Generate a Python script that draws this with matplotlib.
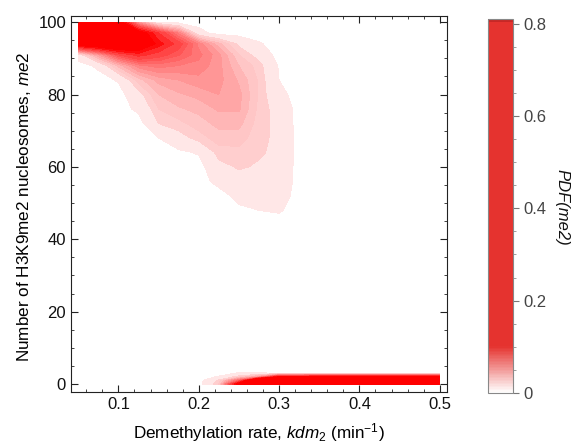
import numpy as np
import matplotlib
matplotlib.use('Agg')
import matplotlib.pyplot as plt
from matplotlib.colors import LinearSegmentedColormap, Normalize
from matplotlib.cm import ScalarMappable
from matplotlib.ticker import MultipleLocator

plt.rcParams['font.family'] = ['Liberation Sans', 'DejaVu Sans']
plt.rcParams['mathtext.fontset'] = 'custom'
plt.rcParams['mathtext.rm'] = 'Liberation Sans'
plt.rcParams['mathtext.it'] = 'Liberation Sans:italic'

# high-methylation mode (values are PDF x 1000)
kdm2_hi = [0.05, 0.075, 0.1, 0.125, 0.15, 0.175, 0.2, 0.225, 0.25, 0.275, 0.3, 0.325]
me2_hi = [44, 48, 52, 56, 60, 64, 68, 72, 76, 80, 84, 88, 91, 94, 97, 100]
pdf_hi = [
    [0, 0, 0, 0, 0, 0, 0, 0, 0, 0, 0, 0],
    [0, 0, 0, 0, 0, 0, 0, 0, 2, 4, 5, 0],
    [0, 0, 0, 0, 0, 0, 0, 0, 7, 9, 9, 0],
    [0, 0, 0, 0, 0, 0, 0, 7, 12, 13, 12, 0],
    [0, 0, 0, 0, 0, 0, 0, 13, 17, 15, 13, 0],
    [0, 0, 0, 0, 0, 2, 5, 19, 20, 17, 14, 0],
    [0, 0, 0, 0, 4, 12, 19, 25, 25, 18, 14, 0],
    [0, 0, 0, 0, 16, 20, 25, 30, 30, 19, 13, 0],
    [0, 0, 0, 6, 22, 27, 30, 35, 35, 20, 12, 0],
    [0, 0, 0, 12, 28, 33, 36, 40, 36, 21, 7, 0],
    [0, 0, 5, 25, 36, 40, 44, 42, 33, 21, 4, 0],
    [0, 6, 30, 50, 55, 52, 50, 42, 28, 19, 3, 0],
    [10, 40, 70, 85, 75, 65, 54, 42, 22, 12, 0, 0],
    [115, 125, 135, 125, 95, 75, 50, 30, 14, 5, 0, 0],
    [170, 170, 160, 115, 80, 50, 8, 0, 0, 0, 0, 0],
    [150, 150, 115, 40, 5, 0, 0, 0, 0, 0, 0, 0],
]

# fully demethylated mode near me2 = 0
kdm2_lo = [0.2, 0.225, 0.25, 0.275, 0.3, 0.325, 0.35, 0.375, 0.4, 0.425, 0.45, 0.475, 0.5]
me2_lo = [0, 1, 2, 3, 4]
pdf_lo = [
    [0, 22, 110, 400, 600, 620, 640, 660, 680, 700, 730, 760, 800],
    [0, 18, 60, 170, 400, 410, 420, 430, 440, 450, 460, 470, 480],
    [0, 5, 20, 40, 100, 100, 105, 105, 105, 105, 105, 105, 105],
    [0, 0, 5, 5, 3, 3, 3, 3, 3, 3, 3, 3, 3],
    [0, 0, 0, 0, 0, 0, 0, 0, 0, 0, 0, 0, 0],
]

vmax = 0.81
cmap = LinearSegmentedColormap.from_list('pdf', [(0, 'white'), (0.1 / vmax, 'red'), (1, 'red')])
norm = Normalize(0, vmax)
levels = [0.004, 0.016, 0.022, 0.028, 0.034, 0.040, 0.046, 0.052, 0.058,
          0.064, 0.070, 0.080, 0.090, 0.100, 1.0]

fig = plt.figure(figsize=(5.71, 4.43), dpi=100)
ax = fig.add_axes([0.1243, 0.1151, 0.6585, 0.8488])

ax.contourf(kdm2_hi, me2_hi, np.array(pdf_hi) / 1000, levels=levels, cmap=cmap, norm=norm)
ax.contourf(kdm2_lo, me2_lo, np.array(pdf_lo) / 1000, levels=levels, cmap=cmap, norm=norm)

ax.set_xlim(0.041, 0.509)
ax.set_ylim(-2.2, 101.7)
ax.set_xticks([0.1, 0.2, 0.3, 0.4, 0.5])
ax.set_xticklabels(['0.1', '0.2', '0.3', '0.4', '0.5'])
ax.set_yticks([0, 20, 40, 60, 80, 100])
ax.xaxis.set_minor_locator(MultipleLocator(0.02))
ax.yaxis.set_minor_locator(MultipleLocator(5))
ax.tick_params(which='both', direction='in', top=True, right=True, color='#222222',
               labelsize=12, labelcolor='#111111')
ax.tick_params(which='major', length=5, width=0.8)
ax.tick_params(which='minor', length=2.5, width=0.6)
for s in ax.spines.values():
    s.set_color('#222222')
    s.set_linewidth(0.8)

ax.set_xlabel(r'Demethylation rate, $kdm_2$ (min$^{-1}$)', fontsize=12.3)
ax.set_ylabel(r'Number of H3K9me2 nucleosomes, $me2$', fontsize=12.3)
ax.xaxis.set_label_coords(0.5, -0.077)
ax.yaxis.set_label_coords(-0.101, 0.492)

# colour bar
bar_cmap = LinearSegmentedColormap.from_list(
    'bar', [(0, 'white'), (0.1 / vmax, '#e5332f'), (0.993, '#e5332f'), (1, '#a01a1a')])
cax = fig.add_axes([0.8546, 0.1129, 0.0438, 0.8442])
cb = fig.colorbar(ScalarMappable(norm=norm, cmap=bar_cmap), cax=cax)
cb.set_ticks([0, 0.2, 0.4, 0.6, 0.8])
cb.set_ticklabels(['0', '0.2', '0.4', '0.6', '0.8'])
cax.yaxis.set_minor_locator(MultipleLocator(0.05))
cax.tick_params(which='both', direction='out', color='#777777', labelsize=12, labelcolor='#444444')
cax.tick_params(which='major', length=4, width=0.8)
cax.tick_params(which='minor', length=2, width=0.5)
cb.outline.set_edgecolor('#888888')
cb.outline.set_linewidth(0.8)
fig.text(0.984, 0.533, 'PDF(me2)', rotation=-90, style='italic', fontsize=12,
         ha='center', va='center', color='#111111')

fig.savefig('out.png', dpi=100)
